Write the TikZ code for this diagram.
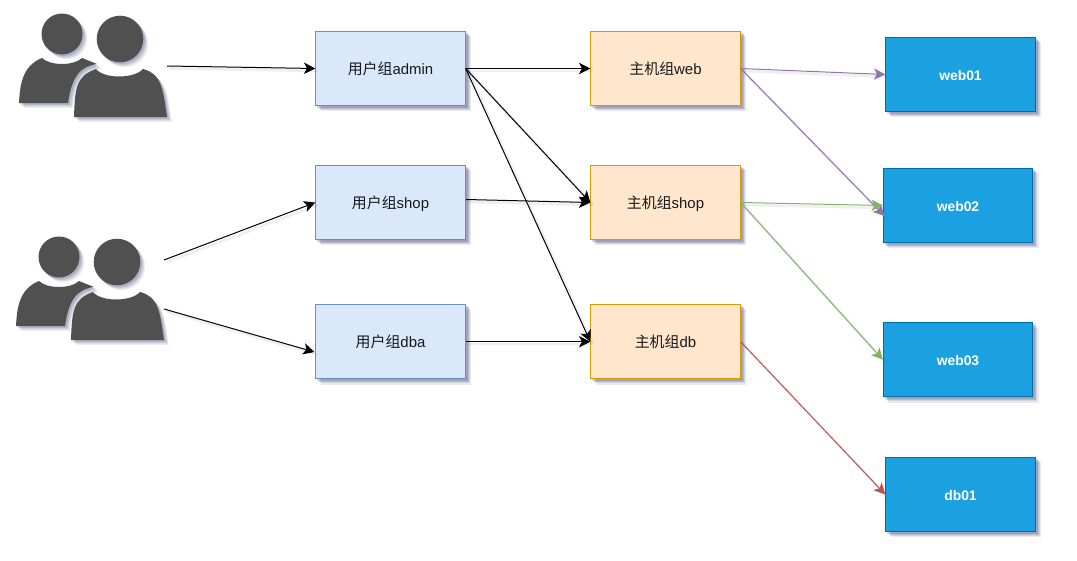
\documentclass[tikz,border=0pt]{standalone}
\usepackage{fontspec}
\setmainfont{Liberation Sans}
\newfontfamily\cjk{Noto Sans CJK SC}
\usetikzlibrary{arrows.meta,backgrounds}
\definecolor{shc}{RGB}{70,75,120}
\definecolor{icon}{RGB}{80,80,80}
\definecolor{blueF}{RGB}{218,232,252}\definecolor{blueD}{RGB}{108,142,191}
\definecolor{orF}{RGB}{255,230,204}\definecolor{orD}{RGB}{215,155,0}
\definecolor{hostF}{RGB}{27,161,226}\definecolor{hostD}{RGB}{0,107,169}
\definecolor{pur}{RGB}{150,115,166}\definecolor{grn}{RGB}{130,179,102}\definecolor{redd}{RGB}{184,84,80}
\tikzset{
 boxbase/.style={draw,minimum width=112pt,minimum height=55.5pt,inner sep=0pt,line width=.75pt,font=\fontsize{11.2}{12}\selectfont,text=black!90,text height=10pt,text depth=1pt},
 usergrp/.style={boxbase,fill=blueF,draw=blueD},
 hostgrp/.style={boxbase,fill=orF,draw=orD},
 hostbox/.style={boxbase,fill=hostF,draw=hostD,text=white,font=\fontsize{10.4}{12}\selectfont\bfseries},
 conn/.style={-{Stealth[length=8.5pt,width=8.5pt,inset=2.2pt]},line width=.75pt,draw=#1,
   preaction={draw=shc,draw opacity=.09,line width=2pt,arrows=-,transform canvas={shift={(1.8pt,-1.8pt)}}}},
 conn/.default=black,
 person/.pic={
  \foreach \sx/\op in {3.6/.10,2.8/.12,2.0/.14,1.2/.18}{
   \begin{scope}[shift={(\sx pt,-\sx pt)}]
    \fill[shc,opacity=\op] (62,34) circle[radius=20.5];
    \fill[shc,opacity=\op] (120,39) circle[radius=23.3];
    \fill[shc,opacity=\op] (19,103) .. controls (20,85) and (22,66) .. (42,58) .. controls (50,66) and (74,66) .. (82,58) -- (97,64) .. controls (82,66) and (72,74) .. (68,103) -- cycle;
    \fill[shc,opacity=\op] (74,117) .. controls (75,88) and (76,76) .. (96,69) .. controls (104,79) and (134,79) .. (143,69) .. controls (162,74) and (163,90) .. (167,117) -- cycle;
   \end{scope}}
  \fill[icon] (62,34) circle[radius=20.5];
  \fill[icon] (120,39) circle[radius=23.3];
  \fill[icon] (19,103) .. controls (20,85) and (22,66) .. (42,58) .. controls (50,66) and (74,66) .. (82,58) -- (97,64) .. controls (82,66) and (72,74) .. (68,103) -- cycle;
  \fill[icon] (74,117) .. controls (75,88) and (76,76) .. (96,69) .. controls (104,79) and (134,79) .. (143,69) .. controls (162,74) and (163,90) .. (167,117) -- cycle;
 }
}
\begin{document}
\begin{tikzpicture}[x=.75pt,y=-.75pt]
\useasboundingbox (0,0) rectangle (1077,560);
\pic at (0,0) {person};
\pic at (-3,223) {person};
\node[usergrp] (ua) at (390.5,68.5) {{\cjk 用户组}admin};
\node[usergrp] (us) at (390.5,202.5) {{\cjk 用户组}shop};
\node[usergrp] (ud) at (390.5,341.7) {{\cjk 用户组}dba};
\node[hostgrp] (ha) at (665.5,68.5) {{\cjk 主机组}web};
\node[hostgrp] (hs) at (665.5,202.5) {{\cjk 主机组}shop};
\node[hostgrp] (hd) at (665.5,341.7) {{\cjk 主机组}db};
\node[hostbox] (w1) at (960.5,74.5) {web01};
\node[hostbox] (w2) at (958,205.5) {web02};
\node[hostbox] (w3) at (958,359.7) {web03};
\node[hostbox] (d1) at (960.5,494.5) {db01};
\begin{scope}[on background layer]
 \foreach \n in {ua,us,ud,ha,hs,hd,w1,w2,w3,d1}{
  \foreach \s/\op in {4.0/.12,3.2/.14,2.4/.18,1.5/.22}{
   \fill[shc,opacity=\op] ([shift={(\s pt,-\s pt)}]\n.north west) rectangle ([shift={(\s pt,-\s pt)}]\n.south east);
  }}
\end{scope}
\coordinate (p1) at (167,66);
\coordinate (p2) at (164,260);
\coordinate (p3) at (164,309);
\coordinate (d2) at (314.5,352);
\coordinate (w2b) at (884.5,216);
\coordinate (usout) at (466,199.5);
\draw[conn] (p1) -- (ua.west);
\draw[conn] (p2) -- (us.west);
\draw[conn] (p3) -- (d2);
\draw[conn] (ua.east) -- (ha.west);
\draw[conn] (ua.east) -- (hs.west);
\draw[conn] (ua.east) -- (hd.west);
\draw[conn] (usout) -- (hs.west);
\draw[conn] (ud.east) -- (hd.west);
\draw[conn=pur] (ha.east) -- (w1.west);
\draw[conn=pur] (ha.east) -- (w2b);
\draw[conn=grn] (hs.east) -- (w2.west);
\draw[conn=grn] (hs.east) -- (w3.west);
\draw[conn=redd] (hd.east) -- (d1.west);
\end{tikzpicture}
\end{document}
